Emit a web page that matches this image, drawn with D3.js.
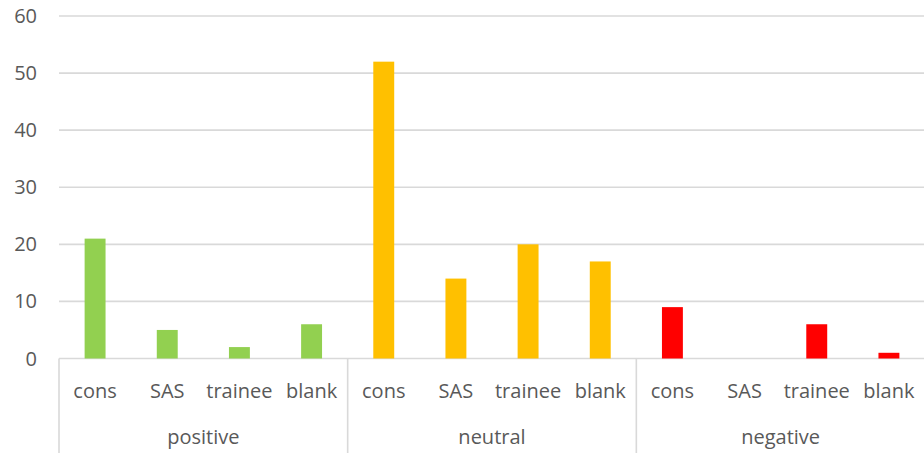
<!DOCTYPE html>
<html>
<head>
<meta charset="utf-8">
<script src="https://cdn.jsdelivr.net/npm/d3@7"></script>
<style>
  html, body { margin: 0; padding: 0; background: #fff; }
  svg text { font-family: "Open Sans", Lato, sans-serif; fill: #595959; }
</style>
</head>
<body>
<svg id="chart" width="924" height="453"></svg>
<script>
// Response counts by sentiment group and respondent grade
const groups = ["positive", "neutral", "negative"];
const categories = ["cons", "SAS", "trainee", "blank"];
const positiveValues = [21, 5, 2, 6];
const neutralValues = [52, 14, 20, 17];
const negativeValues = [9, 0, 6, 1];
const yTicks = [0, 10, 20, 30, 40, 50, 60];
const groupColors = ["#92d050", "#ffc000", "#ff0000"];

const seriesValues = [positiveValues, neutralValues, negativeValues];

const svg = d3.select("#chart");
const margin = { left: 59, right: -1, top: 16, bottom: 95 };
const width = 924, height = 453;
const plotBottom = height - margin.bottom + 0.5;
const fontSize = 20;

const x0 = d3.scaleBand().domain(groups).range([margin.left, width - margin.right]).padding(0);
const x1 = d3.scaleBand().domain(categories).range([0, x0.bandwidth()]).paddingInner(0.71).paddingOuter(0.355);
const y = d3.scaleLinear().domain([0, 60]).range([plotBottom, margin.top]);

// Horizontal gridlines
svg.append("g")
  .selectAll("line")
  .data(yTicks)
  .join("line")
  .attr("x1", margin.left)
  .attr("x2", width)
  .attr("y1", d => y(d))
  .attr("y2", d => y(d))
  .attr("stroke", "#d9d9d9")
  .attr("stroke-width", 1.6);

// Y tick labels
svg.append("g")
  .selectAll("text")
  .data(yTicks)
  .join("text")
  .attr("x", 37)
  .attr("y", d => y(d))
  .attr("dy", "0.35em")
  .attr("text-anchor", "end")
  .attr("font-size", fontSize)
  .text(d => d);

// Bars
const gGroups = svg.append("g")
  .selectAll("g")
  .data(groups)
  .join("g")
  .attr("transform", g => `translate(${x0(g)},0)`);

gGroups.selectAll("rect")
  .data((g, gi) => categories.map((c, ci) => ({ c, v: seriesValues[gi][ci], color: groupColors[gi] })))
  .join("rect")
  .attr("x", d => x1(d.c))
  .attr("width", x1.bandwidth())
  .attr("y", d => y(d.v))
  .attr("height", d => y(0) - y(d.v))
  .attr("fill", d => d.color);

// Multi-level category axis: group separators
const separators = groups.map(g => x0(g)).concat([x0(groups[groups.length - 1]) + x0.bandwidth()]);
svg.append("g")
  .selectAll("line")
  .data(separators)
  .join("line")
  .attr("x1", d => d)
  .attr("x2", d => d)
  .attr("y1", y(0))
  .attr("y2", height)
  .attr("stroke", "#d9d9d9")
  .attr("stroke-width", 1.6);

// Category labels
gGroups.selectAll("text.cat")
  .data(categories)
  .join("text")
  .attr("class", "cat")
  .attr("x", c => x1(c) + x1.bandwidth() / 2)
  .attr("y", 391)
  .attr("dy", "0.35em")
  .attr("text-anchor", "middle")
  .attr("font-size", fontSize)
  .text(c => c);

// Group labels
gGroups.append("text")
  .attr("x", x0.bandwidth() / 2)
  .attr("y", 437)
  .attr("dy", "0.35em")
  .attr("text-anchor", "middle")
  .attr("font-size", fontSize)
  .text(g => g);
</script>
</body>
</html>
